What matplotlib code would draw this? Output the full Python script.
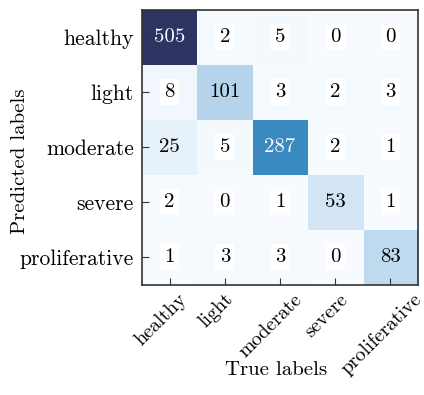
import numpy as np
import matplotlib.pyplot as plt
from matplotlib.colors import LinearSegmentedColormap
from matplotlib.transforms import ScaledTranslation

plt.rcParams['font.family'] = 'cmr10'
plt.rcParams['axes.formatter.use_mathtext'] = True

classes = ['healthy', 'light', 'moderate', 'severe', 'proliferative']
# rows: predicted, columns: true
counts = np.array([
    [505, 2, 5, 0, 0],
    [8, 101, 3, 2, 3],
    [25, 5, 287, 2, 1],
    [2, 0, 1, 53, 1],
    [1, 3, 3, 0, 83],
])

cmap = LinearSegmentedColormap.from_list('blue_navy', [
    (0.0, '#f7fbff'),
    (0.1, '#d4e6f5'),
    (0.2, '#b5d4ec'),
    (0.57, '#3a8ac0'),
    (1.0, '#2d3462'),
])

fig = plt.figure(figsize=(4.24, 3.95), dpi=100)
ax = fig.add_axes([0.335, 0.279, 0.651, 0.696])
ax.imshow(counts, cmap=cmap, vmin=0, vmax=counts.max(), aspect='auto')

thresh = counts.max() / 2
for i in range(counts.shape[0]):
    for j in range(counts.shape[1]):
        v = counts[i, j]
        color = 'white' if v > thresh else 'black'
        box = dict(facecolor='white', edgecolor='none', pad=3) if v < 20 else None
        ax.text(j, i, str(v), ha='center', va='center', color=color,
                fontsize=15, bbox=box)

ax.set_xticks(range(len(classes)))
ax.set_yticks(range(len(classes)))
ax.set_xticklabels(classes, rotation=45, ha='center')
ax.set_yticklabels(classes)
ax.tick_params(direction='in', labelsize=14.5, length=5, color='#333333')
ax.tick_params(axis='x', pad=4)
ax.tick_params(axis='y', labelsize=15.5, pad=6)

# nudge the rotated labels a little to the left
shift = ScaledTranslation(-0.09, 0, fig.dpi_scale_trans)
for lbl in ax.get_xticklabels():
    lbl.set_transform(lbl.get_transform() + shift)

ax.set_xlabel('True labels', fontsize=15)
ax.xaxis.set_label_coords(0.486, -0.278)
ax.set_ylabel('Predicted labels', fontsize=15)
ax.yaxis.set_label_coords(-0.41, 0.45)
for s in ax.spines.values():
    s.set_color('#333333')
    s.set_linewidth(1.2)

fig.savefig('out.png', dpi=100)
